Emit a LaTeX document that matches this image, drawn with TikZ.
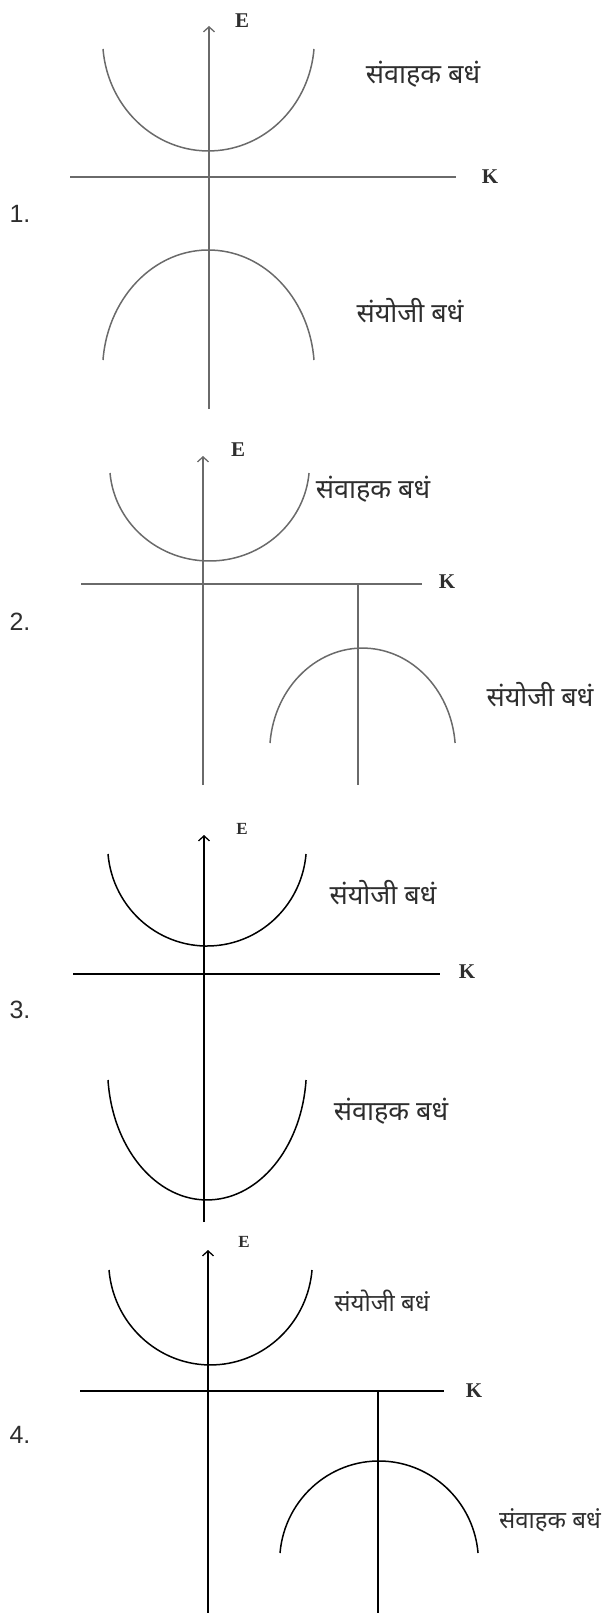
\documentclass[tikz,border=0pt]{standalone}
\usepackage{fontspec}
\usetikzlibrary{arrows.meta}
\setmainfont{Liberation Sans}
\newfontfamily\deva[Script=Devanagari]{Noto Sans}
\newfontfamily\tms{Liberation Serif}
\definecolor{lightline}{HTML}{6A6A6A}
\definecolor{labeltext}{HTML}{2E2E2E}

\begin{document}
\begin{tikzpicture}[x=1pt,y=-1pt,
  axis/.style={line width=1.5pt},
  band/.style={line width=1.5pt},
  eaxis/.style={axis,-{Straight Barb[length=5pt,width=11pt,line width=1.3pt]}},
  bandname/.style={font=\deva\fontsize{27}{27}\selectfont, text=labeltext, inner sep=0pt},
  smallname/.style={font=\deva\fontsize{24}{24}\selectfont, text=labeltext, inner sep=0pt},
  letter/.style={font=\tms\bfseries\fontsize{21}{21}\selectfont, text=labeltext, inner sep=0pt},
  smallletter/.style={font=\tms\bfseries\fontsize{17}{17}\selectfont, text=labeltext, inner sep=0pt},
  number/.style={font=\fontsize{25}{25}\selectfont, text=labeltext, inner sep=0pt}]
\useasboundingbox (0,0) rectangle (613,1613);

% 1.
\begin{scope}[color=lightline]
\coordinate (e1) at (209,26); \coordinate (o1) at (209,409);
\draw[eaxis] (o1) -- (e1);
\coordinate (k1a) at (70,177); \coordinate (k1b) at (456,177);
\draw[axis] (k1a) -- (k1b);
\coordinate (cb1) at (103,49);
\draw[band] (cb1) arc[start angle=175,end angle=5,x radius=105.9,y radius=111.7];
\coordinate (vb1) at (103,360);
\draw[band] (vb1) arc[start angle=175,end angle=5,x radius=105.9,y radius=-120.5];
\end{scope}
\node[letter] (E1) at (242,21) {E};
\node[letter] (K1) at (490,177) {K};
\node[bandname] (cn1) at (423,74) {संवाहक बधं};
\node[bandname] (vn1) at (410,311) {संयोजी बधं};
\node[number] (n1) at (20,214) {1.};

% 2.
\begin{scope}[color=lightline]
\coordinate (e2) at (203,456); \coordinate (o2) at (203,785);
\draw[eaxis] (o2) -- (e2);
\coordinate (k2a) at (81,584); \coordinate (k2b) at (422,584);
\draw[axis] (k2a) -- (k2b);
\coordinate (s2a) at (358,584); \coordinate (s2b) at (358,785);
\draw[axis] (s2a) -- (s2b);
\coordinate (cb2) at (110,473);
\draw[band] (cb2) arc[start angle=175,end angle=5,x radius=99.9,y radius=96.4];
\coordinate (vb2) at (270,743);
\draw[band] (vb2) arc[start angle=175,end angle=5,x radius=92.9,y radius=-104];
\end{scope}
\node[letter] (E2) at (238,450) {E};
\node[letter] (K2) at (447,582) {K};
\node[bandname] (cn2) at (373,489) {संवाहक बधं};
\node[bandname] (vn2) at (540,695) {संयोजी बधं};
\node[number] (n2) at (20,622) {2.};

% 3.
\coordinate (e3) at (204,835); \coordinate (o3) at (204,1222);
\draw[eaxis] (o3) -- (e3);
\coordinate (k3a) at (73,974); \coordinate (k3b) at (440,974);
\draw[axis] (k3a) -- (k3b);
\coordinate (vb3) at (108,854);
\draw[band] (vb3) arc[start angle=175,end angle=5,x radius=99.4,y radius=100.8];
\coordinate (cb3) at (108,1080);
\draw[band] (cb3) arc[start angle=175,end angle=5,x radius=99.4,y radius=131.4];
\node[smallletter] (E3) at (242,829) {E};
\node[letter] (K3) at (467,972) {K};
\node[bandname] (vn3) at (383,893) {संयोजी बधं};
\node[bandname] (cn3) at (391,1111) {संवाहक बधं};
\node[number] (n3) at (20,1010) {3.};

% 4.
\coordinate (e4) at (208,1250); \coordinate (o4) at (208,1613);
\draw[eaxis] (o4) -- (e4);
\coordinate (k4a) at (80,1391); \coordinate (k4b) at (444,1391);
\draw[axis] (k4a) -- (k4b);
\coordinate (s4a) at (378,1391); \coordinate (s4b) at (378,1613);
\draw[axis] (s4a) -- (s4b);
\coordinate (vb4) at (109,1270);
\draw[band] (vb4) arc[start angle=175,end angle=5,x radius=101.9,y radius=104];
\coordinate (cb4) at (280,1553);
\draw[band] (cb4) arc[start angle=175,end angle=5,x radius=99.4,y radius=-100.8];
\node[smallletter] (E4) at (244,1242) {E};
\node[letter] (K4) at (474,1391) {K};
\node[smallname] (vn4) at (382,1301) {संयोजी बधं};
\node[smallname] (cn4) at (550,1520) {संवाहक बधं};
\node[number] (n4) at (20,1435) {4.};
\end{tikzpicture}
\end{document}
